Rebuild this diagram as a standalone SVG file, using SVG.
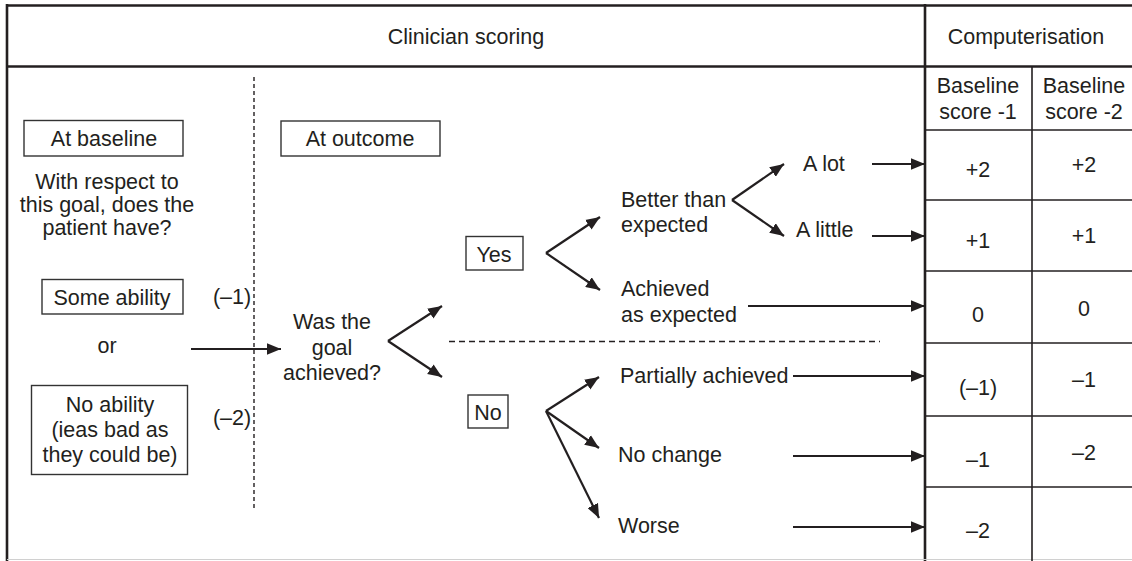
<svg xmlns="http://www.w3.org/2000/svg" width="1132" height="561" viewBox="0 0 1132 561">
<style>
text{font-family:"Liberation Sans",Arial,sans-serif;font-size:21.5px;fill:#231f20}
.c{text-anchor:middle}
.box{fill:none;stroke:#333;stroke-width:1.4}
.frame{stroke:#231f20;stroke-width:2.6;fill:none}
.grid{stroke:#231f20;stroke-width:1.6;fill:none}
.arrow{stroke:#231f20;stroke-width:2.2;fill:none;marker-end:url(#ah)}
.dash{stroke:#231f20;stroke-width:1.4;fill:none}
</style>
<defs>
<marker id="ah" markerUnits="userSpaceOnUse" markerWidth="14" markerHeight="12" refX="12" refY="5" orient="auto" viewBox="0 0 12 10">
<path d="M0,0 L12,5 L0,10 Z" fill="#231f20"/>
</marker>
</defs>
<rect width="1132" height="561" fill="#fff"/>
<g id="frame">
<line class="frame" x1="7" y1="5.5" x2="1132" y2="5.5"/>
<line class="frame" x1="7" y1="4" x2="7" y2="561"/>
<line class="frame" x1="7" y1="66.5" x2="1132" y2="66.5"/>
<line class="frame" x1="925" y1="4" x2="925" y2="561"/>
<line x1="7" y1="559.5" x2="1132" y2="559.5" stroke="#d0d0d0" stroke-width="1"/>
</g>
<g id="table">
<line class="grid" x1="1032" y1="66" x2="1032" y2="561"/>
<line class="grid" x1="925" y1="130" x2="1132" y2="130"/>
<line class="grid" x1="925" y1="200" x2="1132" y2="200"/>
<line class="grid" x1="925" y1="271" x2="1132" y2="271"/>
<line class="grid" x1="925" y1="343" x2="1132" y2="343"/>
<line class="grid" x1="925" y1="416" x2="1132" y2="416"/>
<line class="grid" x1="925" y1="487" x2="1132" y2="487"/>
<text class="c" x="978" y="93">Baseline</text>
<text class="c" x="978" y="119">score -1</text>
<text class="c" x="1084" y="93">Baseline</text>
<text class="c" x="1084" y="119">score -2</text>
<text class="c" x="978" y="177">+2</text>
<text class="c" x="1084" y="172">+2</text>
<text class="c" x="978" y="248">+1</text>
<text class="c" x="1084" y="243">+1</text>
<text class="c" x="978" y="322">0</text>
<text class="c" x="1084" y="316">0</text>
<text class="c" x="978" y="395">(–1)</text>
<text class="c" x="1084" y="387">–1</text>
<text class="c" x="978" y="467">–1</text>
<text class="c" x="1084" y="460">–2</text>
<text class="c" x="978" y="538">–2</text>
</g>
<g id="headers">
<text class="c" x="466" y="44">Clinician scoring</text>
<text class="c" x="1026" y="44">Computerisation</text>
</g>
<g id="dividers">
<line class="dash" x1="254" y1="77" x2="254" y2="510" stroke-dasharray="4 3"/>
<line class="dash" x1="449" y1="341.5" x2="880" y2="341.5" stroke-dasharray="6 4"/>
</g>
<g id="at-baseline">
<rect class="box" x="24" y="120.5" width="159" height="35.5"/>
<text class="c" x="104" y="146">At baseline</text>
</g>
<g id="question">
<text class="c" x="107" y="189">With respect to</text>
<text class="c" x="107" y="212">this goal, does the</text>
<text class="c" x="107" y="235">patient have?</text>
</g>
<g id="some-ability">
<rect class="box" x="42" y="279.5" width="141" height="34.5"/>
<text class="c" x="112" y="305">Some ability</text>
<text class="c" x="232" y="304">(–1)</text>
</g>
<g id="or"><text class="c" x="107" y="353">or</text></g>
<g id="no-ability">
<rect class="box" x="31.5" y="385.5" width="156" height="89"/>
<text class="c" x="110" y="412">No ability</text>
<text class="c" x="110" y="437">(ieas bad as</text>
<text class="c" x="110" y="462">they could be)</text>
<text class="c" x="232" y="425">(–2)</text>
</g>
<g id="at-outcome">
<rect class="box" x="281" y="121" width="159" height="35"/>
<text class="c" x="360" y="146">At outcome</text>
</g>
<g id="was-goal">
<text class="c" x="332" y="329">Was the</text>
<text class="c" x="332" y="355">goal</text>
<text class="c" x="332" y="380">achieved?</text>
</g>
<g id="yes">
<rect class="box" x="466" y="236.5" width="57" height="33.5"/>
<text class="c" x="494" y="262">Yes</text>
</g>
<g id="no">
<rect class="box" x="468" y="395" width="40" height="33"/>
<text class="c" x="488" y="420">No</text>
</g>
<g id="better">
<text x="621" y="207">Better than</text>
<text x="621" y="232">expected</text>
</g>
<g id="a-lot"><text x="803" y="171">A lot</text></g>
<g id="a-little"><text x="796" y="237">A little</text></g>
<g id="achieved">
<text x="621" y="296">Achieved</text>
<text x="621" y="322">as expected</text>
</g>
<g id="partially"><text x="620" y="383">Partially achieved</text></g>
<g id="no-change"><text x="618" y="462">No change</text></g>
<g id="worse"><text x="618" y="533">Worse</text></g>
<g id="connectors">
<line class="arrow" x1="191" y1="349" x2="281" y2="349"/>
<line class="arrow" x1="388" y1="341" x2="442" y2="306"/>
<line class="arrow" x1="388" y1="341" x2="442" y2="377"/>
<line class="arrow" x1="546" y1="253" x2="600" y2="217"/>
<line class="arrow" x1="546" y1="253" x2="600" y2="290"/>
<line class="arrow" x1="732" y1="200" x2="784" y2="164"/>
<line class="arrow" x1="732" y1="200" x2="784" y2="236"/>
<line class="arrow" x1="872" y1="164" x2="925" y2="164"/>
<line class="arrow" x1="872" y1="236" x2="925" y2="236"/>
<line class="arrow" x1="748" y1="306" x2="925" y2="306"/>
<line class="arrow" x1="546" y1="411" x2="599" y2="377"/>
<line class="arrow" x1="546" y1="411" x2="599" y2="448"/>
<line class="arrow" x1="546" y1="411" x2="599" y2="518"/>
<line class="arrow" x1="793" y1="376" x2="925" y2="376"/>
<line class="arrow" x1="793" y1="456" x2="925" y2="456"/>
<line class="arrow" x1="793" y1="527" x2="925" y2="527"/>
</g>
</svg>
